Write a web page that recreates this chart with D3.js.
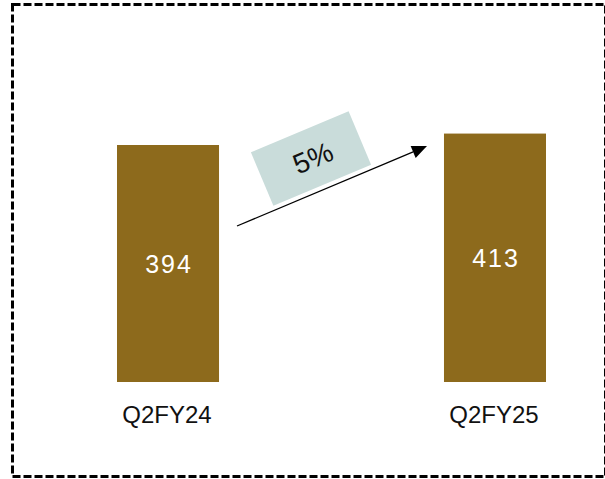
<!DOCTYPE html>
<html>
<head>
<meta charset="utf-8">
<script src="https://cdn.jsdelivr.net/npm/d3@7"></script>
<style>
  html, body { margin: 0; padding: 0; background: #fff; }
  svg { display: block; }
  text { font-family: "Liberation Sans", Arial, sans-serif; }
</style>
</head>
<body>
<svg id="chart" width="605" height="479"></svg>
<script>
// Quarterly values
const categories = ["Q2FY24", "Q2FY25"];
const values = [394, 413];

const W = 605, H = 479;
const svg = d3.select("#chart");

// Dashed frame around the panel
svg.append("rect")
  .attr("x", 12.5).attr("y", 4.5)
  .attr("width", 593).attr("height", 472)
  .attr("fill", "none")
  .attr("stroke", "#000")
  .attr("stroke-width", 3)
  .attr("stroke-dasharray", "8 3");

// Scales
const baseY = 382;
const x = d3.scaleBand()
  .domain(categories)
  .range([117, 546])
  .paddingInner(0.688)
  .paddingOuter(0);

const y = d3.scaleLinear()
  .domain([0, 500])
  .range([baseY, baseY - 500 * 237 / 394]);

const barColor = "#8D6A1C";

// Bars
svg.selectAll("rect.bar")
  .data(values)
  .join("rect")
  .attr("class", "bar")
  .attr("x", (d, i) => x(categories[i]))
  .attr("y", d => y(d))
  .attr("width", x.bandwidth())
  .attr("height", d => y(0) - y(d))
  .attr("fill", barColor);

// Value labels inside bars
svg.selectAll("text.val")
  .data(values)
  .join("text")
  .attr("class", "val")
  .attr("x", (d, i) => x(categories[i]) + x.bandwidth() / 2 + 1)
  .attr("y", d => (y(d) + y(0)) / 2 + 9)
  .attr("text-anchor", "middle")
  .attr("fill", "#fff")
  .attr("font-size", 25)
  .attr("letter-spacing", 2)
  .text(d => d);

// Category labels
svg.selectAll("text.cat")
  .data(categories)
  .join("text")
  .attr("class", "cat")
  .attr("x", d => x(d) + x.bandwidth() / 2 - 1)
  .attr("y", 423)
  .attr("text-anchor", "middle")
  .attr("fill", "#111")
  .attr("font-size", 24)
  .text(d => d);

// Growth arrow between bars
const x0 = x(categories[0]) + x.bandwidth() + 18;
const y0 = y(values[0]) + 81;
const x1 = x(categories[1]) - 17;
const y1 = y(values[1]) + 12.5;
const ang = Math.atan2(y1 - y0, x1 - x0);
const headLen = 15, headHalf = 6.5;
const ux = Math.cos(ang), uy = Math.sin(ang);
const bx = x1 - ux * headLen, by = y1 - uy * headLen;

svg.append("line")
  .attr("x1", x0).attr("y1", y0)
  .attr("x2", bx).attr("y2", by)
  .attr("stroke", "#000")
  .attr("stroke-width", 1.3);

svg.append("path")
  .attr("d", d3.line()([
    [x1, y1],
    [bx - uy * headHalf, by + ux * headHalf],
    [bx + uy * headHalf, by - ux * headHalf]
  ]) + "Z")
  .attr("fill", "#000");

// Growth badge
const growth = Math.round((values[1] / values[0] - 1) * 100);
const deg = ang * 180 / Math.PI;
const mx = (x0 + x1) / 2, my = (y0 + y1) / 2;
const cx = mx - 21, cy = my - 27.5;

const badge = svg.append("g")
  .attr("transform", `translate(${cx},${cy}) rotate(${deg})`);

badge.append("rect")
  .attr("x", -53).attr("y", -29)
  .attr("width", 106).attr("height", 58)
  .attr("fill", "#C9DCDA");

badge.append("text")
  .attr("x", 2).attr("y", 10)
  .attr("text-anchor", "middle")
  .attr("fill", "#111")
  .attr("font-size", 28)
  .text(growth + "%");
</script>
</body>
</html>
